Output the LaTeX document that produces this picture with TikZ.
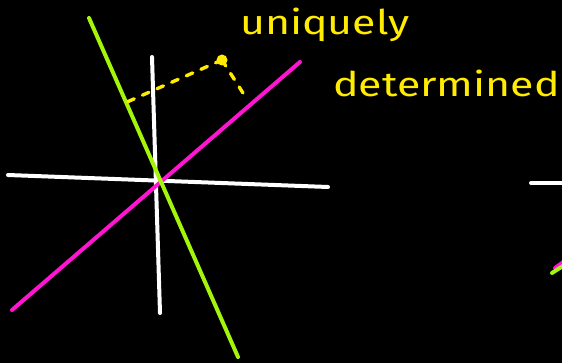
\documentclass[tikz,border=0pt]{standalone}
\usepackage{fontspec}
\setmainfont{Fira Sans}
\definecolor{cyel}{RGB}{255,236,0}
\definecolor{cmag}{RGB}{255,20,210}
\definecolor{cgrn}{RGB}{165,245,10}
\tikzset{board/.style={x=1pt,y=-1pt,line cap=round,line join=round}}
\tikzset{chalk/.style={line width=4pt},
         axis/.style={chalk,white},
         lmag/.style={chalk,cmag},
         lgrn/.style={chalk,cgrn},
         proj/.style={cyel,line width=3.4pt,dash pattern=on 7pt off 9pt},
         word/.style={cyel,anchor=base west,inner sep=0pt,xscale=1.26,
                      font=\fontsize{34}{34}\selectfont}}

\begin{document}
\begin{tikzpicture}[board]
    \fill[black] (0,0) rectangle (562,363);
    \useasboundingbox (0,0) rectangle (562,363);
    % axes
    \coordinate (xl) at (8,175);   \coordinate (xr) at (328,187);
    \coordinate (yt) at (152,57);  \coordinate (yb) at (160,313);
    \draw[axis] (xl) -- (xr);
    \draw[axis] (yt) -- (yb);
    % the two lines
    \coordinate (ma) at (12,310);  \coordinate (mb) at (300,62);
    \coordinate (ga) at (89,18);   \coordinate (gb) at (238,357);
    \draw[lmag] (ma) -- (mb);
    \draw[lgrn] (ga) -- (gb);
    % point and its projections
    \coordinate (pt) at (222,60);
    \coordinate (pg) at (127,102); \coordinate (pm) at (243,93);
    \draw[proj] (pt) -- (pg);
    \draw[proj] (pt) -- (pm);
    \fill[cyel] (pt) circle (5.5);
    \node[word] (uniq) at (240,35) {uniquely};
    \node[word] (det) at (333,97) {determined};
    % next panel, cut off at the edge
    \coordinate (nx) at (531,183);  \coordinate (nxr) at (566,183);
    \coordinate (nm) at (555,268);  \coordinate (nmr) at (566,260);
    \coordinate (ng) at (552,273);  \coordinate (ngr) at (566,264);
    \draw[axis] (nx) -- (nxr);
    \draw[lmag] (nm) -- (nmr);
    \draw[lgrn] (ng) -- (ngr);
  \end{tikzpicture}
\end{document}
